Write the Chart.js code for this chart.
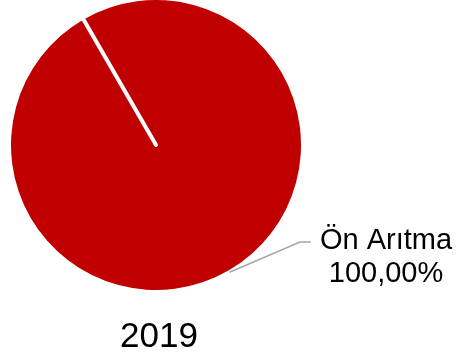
<!DOCTYPE html>
<html>
<head>
<meta charset="utf-8">
<script src="https://cdn.jsdelivr.net/npm/chart.js@4"></script>
<style>
  html, body { margin: 0; padding: 0; background: #fff; }
  canvas { display: block; }
</style>
</head>
<body>
<canvas id="pie" width="457" height="358"></canvas>
<script>
// ─── Data ───────────────────────────────────────────────────────────────────
const categories = ['Ön Arıtma'];
const values     = [100];
const sliceColors = ['#C00000'];
const chartTitle = '2019';

const FONT = '"Liberation Sans", Arial, sans-serif';

// percent in Turkish style: 100,00%
function pctLabel(v, total) {
  return (v / total * 100).toFixed(2).replace('.', ',') + '%';
}

// ─── Overlay: slice edge, leader line, label, title ─────────────────────────
const pieExtras = {
  id: 'pieExtras',
  afterDatasetsDraw(chart) {
    const ctx  = chart.ctx;
    const meta = chart.getDatasetMeta(0);
    const total = values.reduce((a, b) => a + b, 0);

    meta.data.forEach((arc, i) => {
      const { x, y, outerRadius, startAngle, endAngle } = arc.getProps(['x', 'y', 'outerRadius', 'startAngle', 'endAngle'], true);

      // white slice edge from centre out to the start angle
      ctx.save();
      ctx.strokeStyle = '#fff';
      ctx.lineWidth = 4;
      ctx.lineCap = 'round';
      ctx.beginPath();
      ctx.moveTo(x, y);
      ctx.lineTo(x + Math.cos(startAngle) * (outerRadius + 2), y + Math.sin(startAngle) * (outerRadius + 2));
      ctx.stroke();
      ctx.restore();

      // leader line from the mid angle
      const mid = (startAngle + endAngle) / 2;
      const ax = x + Math.cos(mid) * (outerRadius + 2);
      const ay = y + Math.sin(mid) * (outerRadius + 2);
      const ex = x + 144, ey = y + 97;
      ctx.save();
      ctx.strokeStyle = '#A6A6A6';
      ctx.lineWidth = 1.5;
      ctx.beginPath();
      ctx.moveTo(ax, ay);
      ctx.lineTo(ex, ey);
      ctx.lineTo(ex + 11, ey);
      ctx.stroke();
      ctx.restore();

      // label
      ctx.save();
      ctx.fillStyle = '#000';
      ctx.font = '29px ' + FONT;
      ctx.textAlign = 'center';
      ctx.textBaseline = 'alphabetic';
      ctx.fillText(categories[i], x + 230, y + 104);
      ctx.fillText(pctLabel(values[i], total), x + 230, y + 137);
      ctx.restore();
    });

    // title under the pie
    const arc0 = meta.data[0];
    ctx.save();
    ctx.fillStyle = '#000';
    ctx.font = '35px ' + FONT;
    ctx.textAlign = 'center';
    ctx.textBaseline = 'alphabetic';
    ctx.fillText(chartTitle, arc0.x + 3, 347);
    ctx.restore();
  }
};

// ─── Chart ──────────────────────────────────────────────────────────────────
new Chart(document.getElementById('pie'), {
  type: 'pie',
  data: {
    labels: categories,
    datasets: [{
      data: values,
      backgroundColor: sliceColors,
      borderWidth: 0,
    }]
  },
  options: {
    responsive: false,
    animation: false,
    rotation: -30,
    layout: { padding: { left: 11, right: 156, top: 0, bottom: 68 } },
    plugins: {
      legend:  { display: false },
      tooltip: { enabled: false },
      title:   { display: false },
    }
  },
  plugins: [pieExtras]
});
</script>
</body>
</html>
